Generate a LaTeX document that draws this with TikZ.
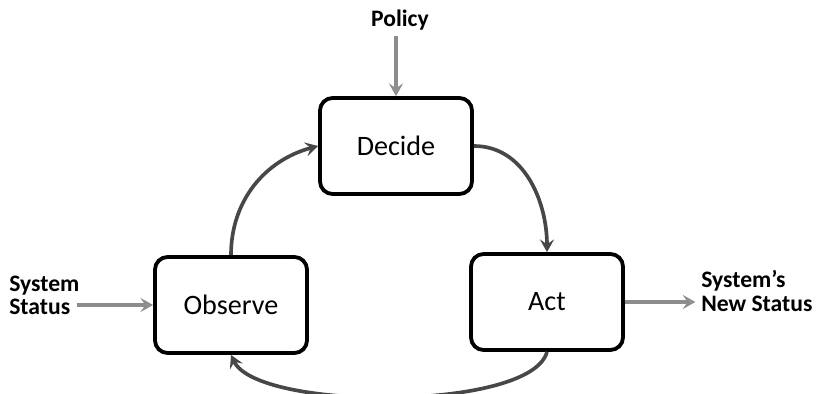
\documentclass[tikz,border=0pt]{standalone}
\usepackage{fontspec}
\setmainfont{Carlito}
\usetikzlibrary{arrows.meta}

\begin{document}
\begin{tikzpicture}[x=0.025cm, y=0.025cm]

% Define styles
\tikzstyle{box} = [rectangle, draw=black, line width=2.7pt, rounded corners=9pt, fill=white, text centered, minimum width=3.8cm, minimum height=2.4cm, font=\fontsize{20}{24}\selectfont]
\tikzstyle{label} = [inner sep=0pt, align=left, font=\bfseries\fontsize{16.8}{16.5}\selectfont]
\tikzstyle{arrow} = [-{Stealth[length=9pt, width=10pt, inset=3.5pt]}, line width=2.6pt, draw=black!72]
\tikzstyle{inarrow} = [-{Stealth[length=9pt, width=10pt, inset=3.5pt, fill=black!25]}, line width=2.6pt, draw=black!45]

\useasboundingbox (0,0) rectangle (818,394);

% Define nodes (loop steps)
\node[box] (observe) at (231,89) {Observe};
\node[box] (act) at (547,92) {Act};
\node[box] (decide) at (396,248) {Decide};

% Define outside labels
\node[label] (policy) at (400,374) {Policy};
\node[label, anchor=west] (sysstatus) at (9,99) {System\\Status};
\node[label, anchor=west] (newstatus) at (701,103) {System’s\\New Status};

% Inputs and output (arrows)
\draw[inarrow] (policy.south -| decide.north) ++(0,-6) -- (decide.north);
\draw[inarrow] ([xshift=-2pt]sysstatus.east |- observe) -- (observe.west);
\draw[inarrow] (act.east) -- ([xshift=-4pt]newstatus.west |- act);

% Loop (arrows)
\draw[arrow] (observe.north) to[out=90, in=195] (decide.west);
\draw[arrow] (decide.east) to[out=0, in=90] (act.north);
\draw[arrow] (act.south) to[out=-105, in=-65, looseness=0.5] (observe.south);

\end{tikzpicture}
\end{document}
